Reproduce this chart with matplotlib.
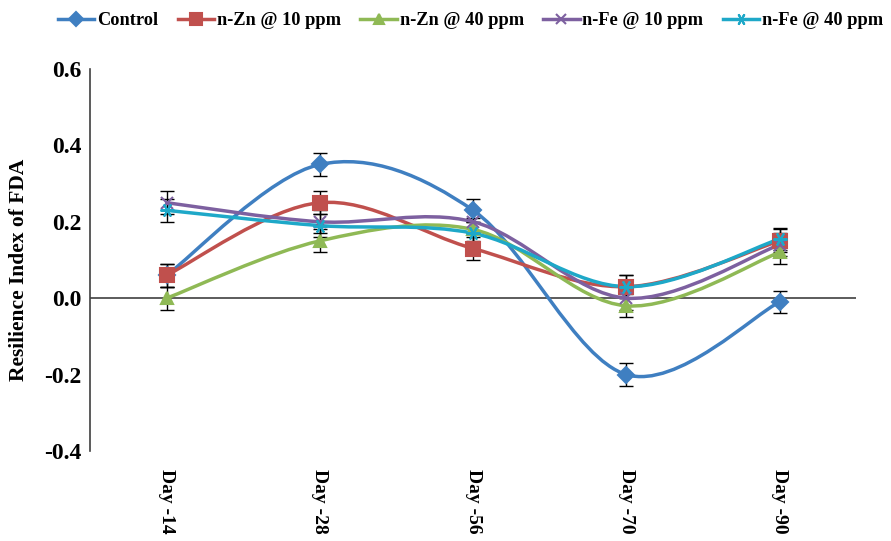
import matplotlib.pyplot as plt
import numpy as np
from matplotlib.path import Path
from matplotlib.patches import PathPatch
from matplotlib.lines import Line2D

plt.rcParams['font.family'] = ['Liberation Serif', 'DejaVu Serif']
plt.rcParams['font.weight'] = 'bold'

# Data
days = ['Day -14', 'Day -28', 'Day -56', 'Day -70', 'Day -90']
series_names = ['Control', 'n-Zn @ 10 ppm', 'n-Zn @ 40 ppm', 'n-Fe @ 10 ppm', 'n-Fe @ 40 ppm']
control = [0.06, 0.35, 0.23, -0.20, -0.01]
zn10 = [0.06, 0.25, 0.13, 0.03, 0.15]
zn40 = [0.00, 0.15, 0.18, -0.02, 0.12]
fe10 = [0.25, 0.20, 0.20, 0.00, 0.14]
fe40 = [0.23, 0.19, 0.17, 0.03, 0.155]
err = [0.03, 0.03, 0.03, 0.03, 0.03]

colors = ['#3f7fc1', '#c0504d', '#8fb955', '#7d60a0', '#1ea8c8']
markers = ['D', 's', '^', 'x', (6, 2, 90)]
msizes = [8, 10, 9, 9, 10]


def smooth_path(x, y):
    # Excel-style smoothed line: cubic Bezier segments with Catmull-Rom control points
    pts = np.column_stack([x, y]).astype(float)
    n = len(pts)
    verts = [pts[0]]
    codes = [Path.MOVETO]
    for i in range(n - 1):
        p0 = pts[i - 1] if i > 0 else pts[i]
        p1 = pts[i]
        p2 = pts[i + 1]
        p3 = pts[i + 2] if i + 2 < n else pts[i + 1]
        c1 = p1 + (p2 - p0) / 6.0
        c2 = p2 - (p3 - p1) / 6.0
        verts += [c1, c2, p2]
        codes += [Path.CURVE4] * 3
    return Path(verts, codes)


fig = plt.figure(figsize=(8.91, 5.41), dpi=100)
ax = fig.add_axes([0.101, 0.1664, 0.86, 0.7061])

x = np.arange(len(days))
ax.axhline(0, color='#404040', linewidth=1.2, zorder=1)

for vals, name, c, m, ms in zip([control, zn10, zn40, fe10, fe40], series_names, colors, markers, msizes):
    ax.add_patch(PathPatch(smooth_path(x, vals), facecolor='none', edgecolor=c, linewidth=2.5, zorder=3))
    ax.errorbar(x, vals, yerr=err, fmt='none', ecolor='black', elinewidth=1, capsize=5, capthick=1, zorder=2)
    ax.plot(x, vals, linestyle='none', marker=m, markersize=ms, color=c, markeredgewidth=1.5, zorder=4)

ax.set_xlim(-0.5, len(days) - 0.5)
ax.set_ylim(-0.4, 0.6)
ax.set_yticks([-0.4, -0.2, 0.0, 0.2, 0.4, 0.6])
ax.set_yticklabels([f'{v:.1f}' for v in [-0.4, -0.2, 0.0, 0.2, 0.4, 0.6]], fontsize=17, fontweight='bold')
ax.set_xticks(x)
ax.set_xticklabels(days, rotation=-90, fontsize=14, fontweight='bold', va='top')
ax.tick_params(axis='both', length=0)
ax.tick_params(axis='y', pad=6)
ax.tick_params(axis='x', pad=13)

for s in ['top', 'right', 'bottom']:
    ax.spines[s].set_visible(False)
ax.spines['left'].set_color('#404040')
ax.spines['left'].set_linewidth(1.2)

ax.set_ylabel('Resilience Index of FDA', fontsize=15.5, fontweight='bold')
ax.yaxis.set_label_coords(-0.08, 0.475)

handles = [Line2D([], [], color=c, marker=m, markersize=ms * 0.85, linewidth=2.5, markeredgewidth=1.5)
           for c, m, ms in zip(colors, markers, msizes)]
fig.legend(handles, series_names, loc='center', bbox_to_anchor=(0.528, 0.962), ncol=5, frameon=False,
           handlelength=2.0, handletextpad=0.15, columnspacing=1.05, borderpad=0.2,
           prop={'weight': 'bold', 'size': 13.2})

fig.savefig('out.png', dpi=100)
